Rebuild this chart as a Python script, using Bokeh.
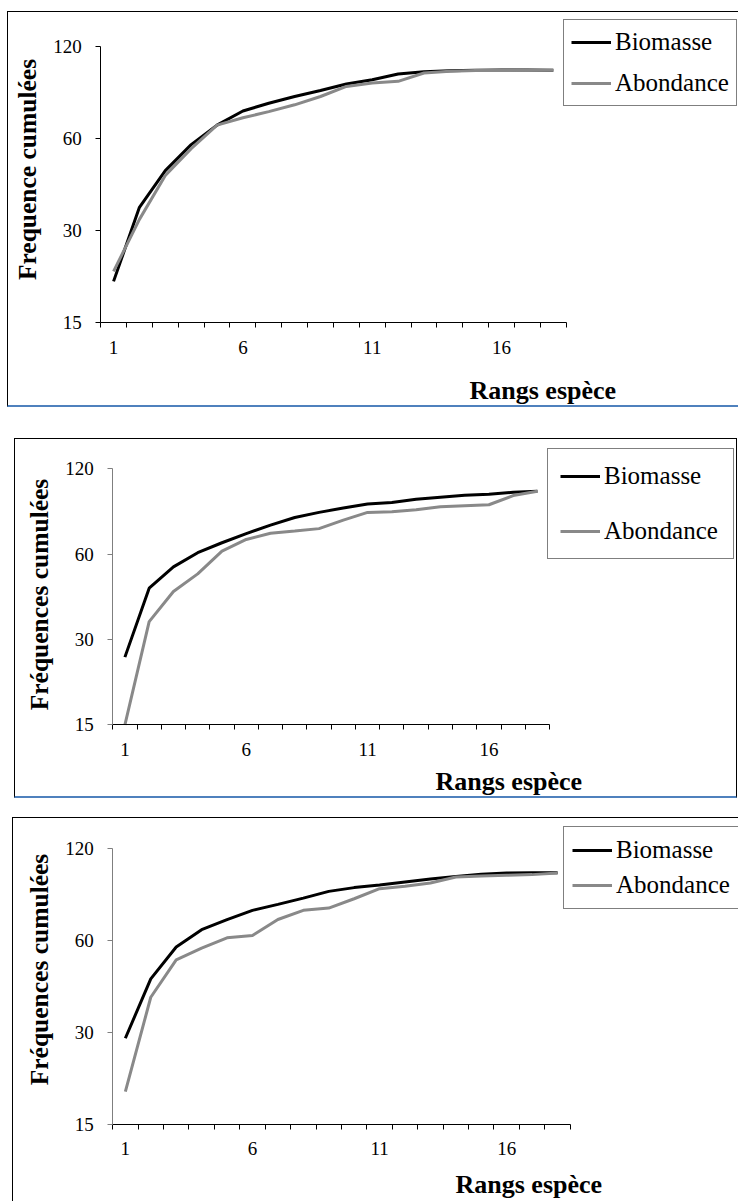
from bokeh.plotting import figure
from bokeh.layouts import column
from bokeh.models import (FixedTicker, NumeralTickFormatter, Range1d, Legend,
                          LegendItem, Label)
from bokeh.embed import file_html
from bokeh.resources import INLINE
import math

# ---------------- data ----------------
ranks = list(range(1, 19))
x_tick_values = [1, 6, 11, 16]
y_tick_values = [15, 30, 60, 120]
series_names = ["Biomasse", "Abondance"]
x_title = "Rangs espèce"
y_titles = ["Frequence cumulées", "Fréquences cumulées", "Fréquences cumulées"]

biomasse_1 = [20.5, 35.8, 47.2, 57.4, 66.5, 74.0, 78.4, 82.5, 86.3, 90.6, 93.6, 97.8, 99.4, 100.2, 100.6, 100.8, 100.8, 100.6]
abondance_1 = [22.1, 32.7, 45.5, 55.7, 66.5, 70.3, 73.6, 77.5, 82.5, 89.0, 91.3, 92.5, 98.5, 99.7, 100.3, 100.4, 100.5, 100.6]

biomasse_2 = [26.0, 45.5, 54.1, 60.7, 65.8, 70.9, 75.9, 80.8, 84.2, 87.2, 90.1, 91.3, 93.6, 95.2, 96.7, 97.5, 99.1, 100.0]
abondance_2 = [15.0, 34.7, 44.3, 51.1, 61.5, 67.6, 71.1, 72.4, 73.8, 79.1, 84.2, 84.6, 86.0, 88.2, 88.9, 89.6, 96.5, 100.0]

biomasse_3 = [28.7, 44.9, 57.1, 65.1, 70.2, 75.3, 78.8, 82.6, 86.9, 89.4, 91.2, 93.3, 95.4, 97.3, 98.8, 99.8, 100.0, 100.0]
abondance_3 = [19.2, 39.1, 51.8, 56.6, 61.2, 62.3, 70.3, 75.3, 76.6, 82.2, 88.7, 90.3, 92.6, 96.9, 97.6, 98.1, 98.6, 99.8]

# ---------------- styling / layout (page pixels) ----------------
FONT = "Liberation Serif"
BLACK = "#000000"
GREY = "#898989"
BLUE = "#4f81bd"

panels = [
    dict(bio=biomasse_1, abo=abondance_1, ytitle=y_titles[0],
         ox=7, oy=11, w=731, h=396, borders=(1, 0, 2, 1),  # top right bottom left
         styles={"border-left": "1px solid black", "border-top": "1px solid black",
                 "border-bottom": "2px solid " + BLUE},
         ax=100, ay=320, ax_end=565, ay_top=46,
         yaxis_color=BLACK,
         legend=dict(left=563, top=18, pad=7, spacing=11, lw=100),
         xt=(469, 387), yt=(27, 166)),
    dict(bio=biomasse_2, abo=abondance_2, ytitle=y_titles[1],
         ox=14, oy=438, w=723, h=360, borders=(1, 1, 2, 1),
         styles={"border-left": "1px solid black", "border-top": "1px solid black",
                 "border-right": "1px solid black", "border-bottom": "2px solid " + BLUE},
         ax=112, ay=722, ax_end=547.6, ay_top=468,
         yaxis_color="#7f7f7f",
         legend=dict(left=547, top=447, pad=12, spacing=25, lw=117),
         xt=(435, 778), yt=(39, 591)),
    dict(bio=biomasse_3, abo=abondance_3, ytitle=y_titles[2],
         ox=12, oy=817, w=726, h=384, borders=(1, 0, 0, 1),
         styles={"border-left": "1px solid black", "border-top": "1px solid black"},
         ax=112, ay=1123, ax_end=569, ay_top=848,
         yaxis_color="#7f7f7f",
         legend=dict(left=563, top=827, pad=8, spacing=5, lw=100),
         xt=(455, 1183), yt=(39, 968)),
]
ITEM_H = 30
GLYPH_W = 40


def make_panel(cfg, prev_bottom):
    bt, br, bb, bl = cfg["borders"]
    c_left = cfg["ox"] + bl
    c_top = cfg["oy"] + bt
    c_w = cfg["w"] - bl - br
    c_h = cfg["h"] - bt - bb
    c_right = c_left + c_w
    c_bottom = c_top + c_h

    def sx(xa):  # page x -> frame screen x
        return xa - c_left

    def sy(ya):  # page y -> frame screen y (upwards from bottom)
        return c_bottom - ya

    n = len(ranks)
    px_per_rank = (cfg["ax_end"] - cfg["ax"]) / n
    px_per_doubling = (cfg["ay"] - cfg["ay_top"]) / math.log2(y_tick_values[-1] / y_tick_values[0])
    xs = ranks[0] - 0.5
    x0 = xs - (cfg["ax"] - c_left) / px_per_rank
    x1 = xs + (c_right - cfg["ax"]) / px_per_rank
    y0 = y_tick_values[0] / 2 ** ((c_bottom - cfg["ay"]) / px_per_doubling)
    y1 = y_tick_values[0] * 2 ** ((cfg["ay"] - c_top) / px_per_doubling)

    p = figure(width=cfg["w"], height=cfg["h"],
               x_range=Range1d(x0, x1), y_range=Range1d(y0, y1),
               y_axis_type="log", output_backend="svg", toolbar_location=None,
               min_border=0, min_border_top=0, min_border_right=0,
               min_border_bottom=0, min_border_left=0,
               margin=(cfg["oy"] - prev_bottom, 0, 0, cfg["ox"]),
               styles=cfg["styles"])
    p.outline_line_color = None
    p.xgrid.visible = False
    p.ygrid.visible = False
    p.background_fill_color = "white"
    p.border_fill_color = "white"

    xa = p.xaxis[0]
    xa.fixed_location = y_tick_values[0]
    xa.bounds = (ranks[0] - 0.5, ranks[-1] + 0.5)
    xa.ticker = FixedTicker(ticks=x_tick_values,
                            minor_ticks=[r - 0.5 for r in ranks] + [ranks[-1] + 0.5])
    xa.major_tick_in = 0
    xa.major_tick_out = 0
    xa.minor_tick_in = 0
    xa.minor_tick_out = 5
    xa.minor_tick_line_color = BLACK
    xa.axis_line_color = BLACK
    xa.major_label_standoff = 13
    xa.major_label_text_font = FONT
    xa.major_label_text_font_size = "19px"
    xa.major_label_text_color = BLACK

    ya = p.yaxis[0]
    ya.fixed_location = ranks[0] - 0.5
    ya.bounds = (y_tick_values[0], y_tick_values[-1])
    ya.ticker = FixedTicker(ticks=y_tick_values, minor_ticks=[])
    ya.formatter = NumeralTickFormatter(format="0")
    ya.major_tick_in = 0
    ya.major_tick_out = 5
    ya.major_tick_line_color = cfg["yaxis_color"]
    ya.axis_line_color = cfg["yaxis_color"]
    ya.major_label_standoff = 14
    ya.major_label_text_font = FONT
    ya.major_label_text_font_size = "19px"
    ya.major_label_text_color = BLACK

    r_bio = p.line(ranks, cfg["bio"], line_color=BLACK, line_width=3)
    r_abo = p.line(ranks, cfg["abo"], line_color=GREY, line_width=3)

    lg = cfg["legend"]
    leg_h = 2 * lg["pad"] + 2 * ITEM_H + lg["spacing"]
    legend = Legend(items=[LegendItem(label=series_names[0], renderers=[r_bio]),
                           LegendItem(label=series_names[1], renderers=[r_abo])],
                    location=(sx(lg["left"]), sy(lg["top"] + leg_h)),
                    padding=lg["pad"], spacing=lg["spacing"],
                    margin=0, glyph_width=GLYPH_W, glyph_height=ITEM_H,
                    label_height=ITEM_H, label_width=lg["lw"], label_standoff=4,
                    label_text_font=FONT, label_text_font_size="25px",
                    label_text_color=BLACK,
                    border_line_color=BLACK, border_line_width=1,
                    background_fill_color="white", background_fill_alpha=1.0)
    p.add_layout(legend)

    xt = Label(x=sx(cfg["xt"][0]), y=sy(cfg["xt"][1]), x_units="screen", y_units="screen",
               text=x_title, text_font=FONT, text_font_style="bold",
               text_font_size="26px", text_align="left", text_baseline="middle",
               text_color=BLACK)
    yt = Label(x=sx(cfg["yt"][0]), y=sy(cfg["yt"][1]), x_units="screen", y_units="screen",
               text=cfg["ytitle"], text_font=FONT, text_font_style="bold",
               text_font_size="25.5px", text_align="center", text_baseline="middle",
               angle=math.pi / 2, text_color=BLACK)
    p.add_layout(xt)
    p.add_layout(yt)
    return p, cfg["oy"] + cfg["h"]


figs = []
bottom = 0
for c in panels:
    f, bottom = make_panel(c, bottom)
    figs.append(f)

layout = column(*figs, spacing=0)

open("out.html", "w").write(file_html(layout, INLINE))
